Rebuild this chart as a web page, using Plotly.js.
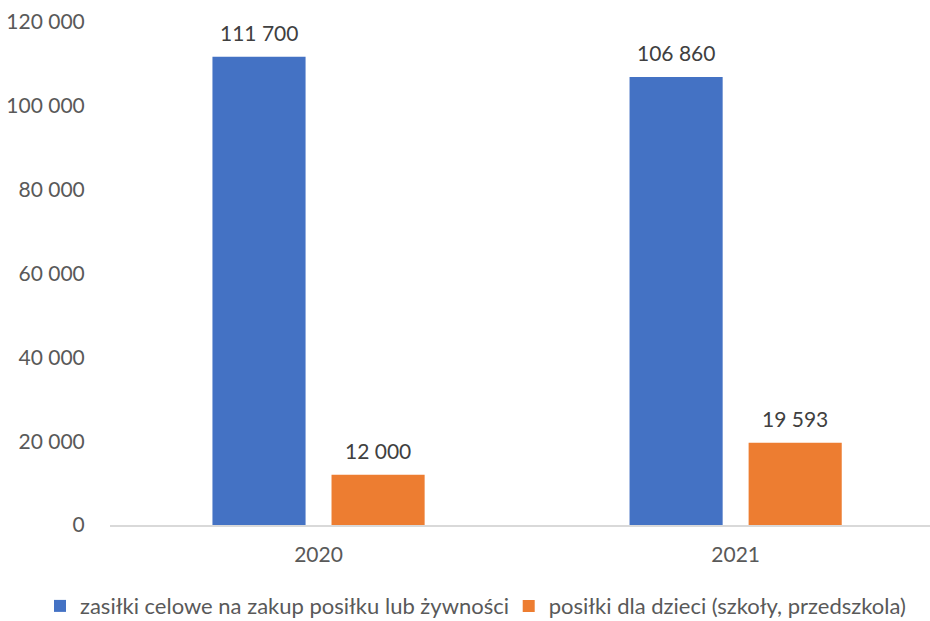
<!DOCTYPE html>
<html>
<head>
<meta charset="utf-8">
<script src="https://cdn.plot.ly/plotly-3.0.1.min.js"></script>
<style>html,body{margin:0;padding:0;background:#fff;}#chart{width:930px;height:621px;}</style>
</head>
<body>
<div id="chart"></div>
<script>
var categories = ["2020", "2021"];
var seriesNames = ["zasiłki celowe na zakup posiłku lub żywności", "posiłki dla dzieci (szkoły, przedszkola)"];
var seriesA = [111700, 106860];
var seriesB = [12000, 19593];
var yTicks = [0, 20000, 40000, 60000, 80000, 100000, 120000];

function fmt(v){ return String(v).replace(/\B(?=(\d{3})+(?!\d))/g, " "); }

var font = "Lato, 'Open Sans', sans-serif";
var traces = [
  {type:"bar", name:seriesNames[0], x:categories, y:seriesA, marker:{color:"#4472C4"}, hoverinfo:"none", legend:"legend"},
  {type:"bar", name:seriesNames[1], x:categories, y:seriesB, marker:{color:"#ED7D31"}, hoverinfo:"none", legend:"legend2"}
];
var annotations = [];
var series = [seriesA, seriesB];
var offs = [-59.5, 59.5];
series.forEach(function(s, si){
  s.forEach(function(v, ci){
    annotations.push({x:ci, y:v, xref:"x", yref:"y", text:fmt(v), showarrow:false,
      xanchor:"center", yanchor:"bottom", xshift:offs[si], yshift:10,
      font:{family:font, size:21, color:"#404040"}});
  });
});
var legendStyle = function(x){
  return {orientation:"h", xref:"container", yref:"container", x:x, xanchor:"left", y:0.024, yanchor:"middle",
          font:{size:22, color:"#595959"}, itemwidth:30, bgcolor:"rgba(0,0,0,0)"};
};
var layout = {
  width:930, height:621,
  margin:{l:110, r:0, t:22, b:96},
  paper_bgcolor:"#fff", plot_bgcolor:"#fff",
  barmode:"group", bargap:0.429, bargroupgap:0.218,
  font:{family:font, color:"#595959", size:21},
  xaxis:{type:"category", range:[-0.5, 1.466], showline:true, linecolor:"#d9d9d9", linewidth:1.5,
         ticks:"outside", ticklen:10, tickcolor:"rgba(0,0,0,0)", tickfont:{size:21, color:"#595959"},
         showgrid:false, zeroline:false, fixedrange:true, automargin:false},
  yaxis:{range:[0,120000], tickvals:yTicks, ticktext:yTicks.map(fmt), showgrid:false, zeroline:false,
         showline:false, ticks:"outside", ticklen:20, tickcolor:"rgba(0,0,0,0)",
         tickfont:{size:21, color:"#595959"}, fixedrange:true, automargin:false},
  annotations:annotations,
  showlegend:true,
  legend:legendStyle(0.043),
  legend2:legendStyle(0.547)
};
Plotly.newPlot("chart", traces, layout, {displayModeBar:false, staticPlot:true});
</script>
</body>
</html>
